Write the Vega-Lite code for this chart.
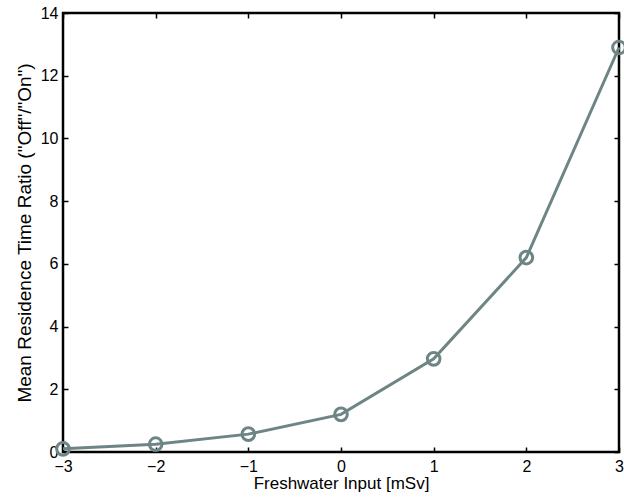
{
  "$schema": "https://vega.github.io/schema/vega-lite/v6.json",
  "width": 556,
  "height": 439,
  "autosize": "none",
  "padding": {"left": 63, "top": 13, "right": 5, "bottom": 51},
  "background": "white",
  "config": {
    "view": {"stroke": "black", "strokeWidth": 2.5},
    "font": "Liberation Sans",
    "axis": {"grid": false, "domain": false, "tickColor": "black", "tickSize": -5, "tickWidth": 1.5, "labelFont": "Liberation Sans", "labelFontSize": 16, "labelColor": "black", "labelFlush": false, "labelBound": false, "labelOverlap": false, "titleFont": "Liberation Sans", "titleFontSize": 17, "titleFontWeight": "normal", "titleColor": "black"}
  },
  "data": {"values": [
    {"x": -3, "y": 0.1},
    {"x": -2, "y": 0.25},
    {"x": -1, "y": 0.57},
    {"x": 0, "y": 1.2},
    {"x": 1, "y": 2.97},
    {"x": 2, "y": 6.2},
    {"x": 3, "y": 12.9}
  ]},
  "layer": [
    {
      "mark": {"type": "line", "color": "#6e8585", "strokeWidth": 3, "clip": false},
      "encoding": {
        "x": {"field": "x", "type": "quantitative", "scale": {"domain": [-3, 3], "nice": false, "zero": false}, "axis": {"values": [-3, -2, -1, 0, 1, 2, 3], "labelExpr": "replace(datum.label, '-', '\u2212')", "title": "Freshwater Input [mSv]", "labelPadding": 11, "titlePadding": 1}},
        "y": {"field": "y", "type": "quantitative", "scale": {"domain": [0, 14], "nice": false}, "axis": {"values": [0, 2, 4, 6, 8, 10, 12, 14], "title": "Mean Residence Time Ratio (\"Off\"/\"On\")", "titleFontSize": 19, "labelPadding": 10, "titlePadding": 6}}
      }
    },
    {
      "mark": {"type": "point", "shape": "circle", "filled": false, "color": "#6e8585", "strokeWidth": 3, "size": 160, "opacity": 1, "clip": false},
      "encoding": {
        "x": {"field": "x", "type": "quantitative", "axis": {"orient": "top", "values": [-3, -2, -1, 0, 1, 2, 3], "labels": false, "title": null}},
        "y": {"field": "y", "type": "quantitative", "axis": {"orient": "right", "values": [0, 2, 4, 6, 8, 10, 12, 14], "labels": false, "title": null}}
      }
    }
  ],
  "resolve": {"axis": {"x": "independent", "y": "independent"}}
}
